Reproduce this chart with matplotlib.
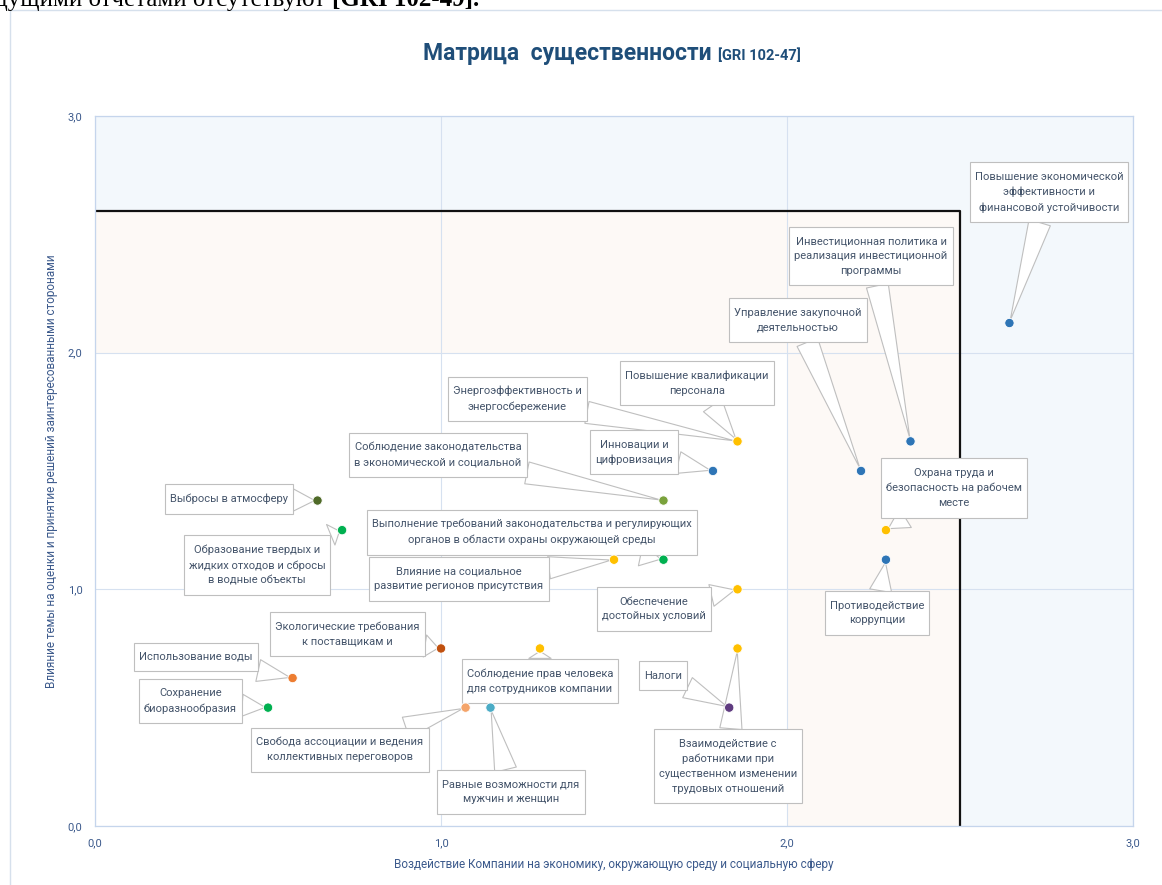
import matplotlib
matplotlib.use("Agg")
import matplotlib.pyplot as plt
from matplotlib.patches import Rectangle
from matplotlib.path import Path
from matplotlib.ticker import FuncFormatter

plt.rcParams['font.family'] = ['Roboto', 'DejaVu Sans']

# темы матрицы существенности
labels = [
    "Повышение экономической\nэффективности и\nфинансовой устойчивости",
    "Инвестиционная политика и\nреализация инвестиционной\nпрограммы",
    "Управление закупочной\nдеятельностью",
    "Повышение квалификации\nперсонала",
    "Энергоэффективность и\nэнергосбережение",
    "Инновации и\nцифровизация",
    "Соблюдение законодательства\nв экономической и социальной",
    "Выбросы в атмосферу",
    "Образование твердых и\nжидких отходов и сбросы\nв водные объекты",
    "Выполнение требований законодательства и регулирующих\nорганов в области охраны окружающей среды",
    "Влияние на социальное\nразвитие регионов присутствия",
    "Обеспечение\nдостойных условий",
    "Экологические требования\nк поставщикам и",
    "Использование воды",
    "Сохранение\nбиоразнообразия",
    "Соблюдение прав человека\nдля сотрудников компании",
    "Свобода ассоциации и ведения\nколлективных переговоров",
    "Равные возможности для\nмужчин и женщин",
    "Налоги",
    "Взаимодействие с\nработниками при\nсущественном изменении\nтрудовых отношений",
    "Охрана труда и\nбезопасность на рабочем\nместе",
    "Противодействие\nкоррупции",
]
# воздействие компании (ось X)
impact = [2.643, 2.357, 2.214, 1.857, 1.857, 1.786, 1.643, 0.643, 0.714, 1.643, 1.5,
          1.857, 1.0, 0.571, 0.5, 1.286, 1.071, 1.143, 1.833, 1.857, 2.286, 2.286]
# влияние на заинтересованные стороны (ось Y)
influence = [2.125, 1.625, 1.5, 1.625, 1.625, 1.5, 1.375, 1.375, 1.25, 1.125, 1.125,
             1.0, 0.75, 0.625, 0.5, 0.75, 0.5, 0.5, 0.5, 0.75, 1.25, 1.125]

ticks = [0, 1, 2, 3]
x_threshold = 2.5
y_threshold = 2.6

# оформление: цвета точек и места подписей
point_colors = ['#2e75b6', '#2e75b6', '#2e75b6', '#ffc000', '#ffc000', '#2e75b6',
                '#7aa23c', '#4f6a28', '#00b050', '#00b050', '#ffc000', '#ffc000',
                '#c0500f', '#ed7d31', '#00b050', '#ffc000', '#f4a46a', '#4bacc6',
                '#5f3b80', '#ffc000', '#ffc000', '#2e75b6']
label_x = [2.757, 2.243, 2.032, 1.740, 1.220, 1.558, 0.991, 0.387, 0.468, 1.263, 1.052,
           1.616, 0.729, 0.292, 0.275, 1.286, 0.708, 1.202, 1.642, 1.829, 2.483, 2.260]
label_y = [2.678, 2.408, 2.138, 1.872, 1.804, 1.580, 1.568, 1.382, 1.103, 1.242, 1.044,
           0.917, 0.811, 0.714, 0.528, 0.613, 0.321, 0.144, 0.634, 0.253, 1.428, 0.900]

txt_col = '#44546a'
axis_col = '#3c5a8c'
grid_col = '#d6e1f0'


def callout_box(x0, y0, width, height, mutation_size):
    # прямоугольник: узкие поля по бокам, шире сверху и снизу
    px = 0.45 * mutation_size
    py = 0.85 * mutation_size
    x0, y0 = x0 - px, y0 - py
    x1, y1 = x0 + width + 2 * px, y0 + height + 2 * py
    return Path([(x0, y0), (x1, y0), (x1, y1), (x0, y1), (x0, y0)], closed=True)


fig = plt.figure(figsize=(11.62, 8.85), dpi=100)
ax = fig.add_axes([0.0818, 0.0667, 0.8932, 0.8023])
ax.set_xlim(0, 3)
ax.set_ylim(0, 3)

# зоны фона
blue = '#f3f8fc'
peach = '#fdf9f6'
ax.add_patch(Rectangle((0, y_threshold), x_threshold, 3 - y_threshold, fc=blue, ec='none', zorder=0))
ax.add_patch(Rectangle((x_threshold, 0), 3 - x_threshold, 3, fc=blue, ec='none', zorder=0))
ax.add_patch(Rectangle((0, 2), x_threshold, y_threshold - 2, fc=peach, ec='none', zorder=0))
ax.add_patch(Rectangle((2, 0), x_threshold - 2, 2, fc=peach, ec='none', zorder=0))

ax.plot([0, x_threshold, x_threshold], [y_threshold, y_threshold, 0], color='#111111', lw=1.6, zorder=1.5)

ax.set_xticks(ticks)
ax.set_yticks(ticks)
ax.grid(True, color=grid_col, lw=0.8, zorder=1)
ax.set_axisbelow(True)
for s in ax.spines.values():
    s.set_color('#c5d5ec')
    s.set_linewidth(0.9)
fmt = FuncFormatter(lambda v, p: f"{v:.1f}".replace('.', ','))
ax.xaxis.set_major_formatter(fmt)
ax.yaxis.set_major_formatter(fmt)
ax.tick_params(length=0, labelsize=8, labelcolor=axis_col)
ax.tick_params(axis='x', pad=9)
ax.tick_params(axis='y', pad=9)

ax.set_xlabel("Воздействие Компании на экономику, окружающую среду и социальную сферу",
              fontsize=8.5, color=axis_col, labelpad=7)
ax.set_ylabel("Влияние темы на оценки и принятие решений заинтересованными сторонами",
              fontsize=8.5, color=axis_col, labelpad=7)

# подписи-выноски
for i in range(len(labels)):
    ax.annotate(labels[i], xy=(impact[i], influence[i]), xytext=(label_x[i], label_y[i]),
                textcoords='data', ha='center', va='center', fontsize=8, color=txt_col,
                linespacing=1.6, zorder=3,
                bbox=dict(boxstyle=callout_box, fc='white', ec='#bfbfbf', lw=0.8),
                arrowprops=dict(arrowstyle='wedge,tail_width=2.0,shrink_factor=0.5',
                                fc='white', ec='#bfbfbf', lw=0.8, shrinkA=0, shrinkB=2))

ax.scatter(impact, influence, s=45, c=point_colors, edgecolors='white', linewidths=0.6, zorder=5)

# заголовок
fig.text(712 / 1162, 1 - 60 / 885, "Матрица  существенности", ha='right', va='baseline',
         fontsize=16.5, fontweight='bold', color='#1f4e79')
fig.text(718 / 1162, 1 - 60 / 885, "[GRI 102-47]", ha='left', va='baseline',
         fontsize=10.5, fontweight='bold', color='#1f4e79')

# рамка области диаграммы
fig.add_artist(plt.Line2D([10 / 1162, 1], [1 - 10 / 885, 1 - 10 / 885], transform=fig.transFigure,
                          color='#d6e0ec', lw=1))
fig.add_artist(plt.Line2D([10 / 1162, 10 / 1162], [0, 1 - 10 / 885], transform=fig.transFigure,
                          color='#d6e0ec', lw=1))

# обрезанная строка текста документа сверху
t1 = fig.text(-0.004, 1 - 6 / 885, "дущими отчетами отсутствуют", ha='left', va='baseline',
              fontsize=18, family='Liberation Serif', color='black')
ax.annotate("[GRI 102-49].", xy=(1, 0), xycoords=t1, xytext=(5, 0), textcoords='offset points',
            ha='left', va='bottom', fontsize=18, family='Liberation Serif', fontweight='bold',
            color='black', annotation_clip=False)

fig.savefig("out.png", dpi=100)
